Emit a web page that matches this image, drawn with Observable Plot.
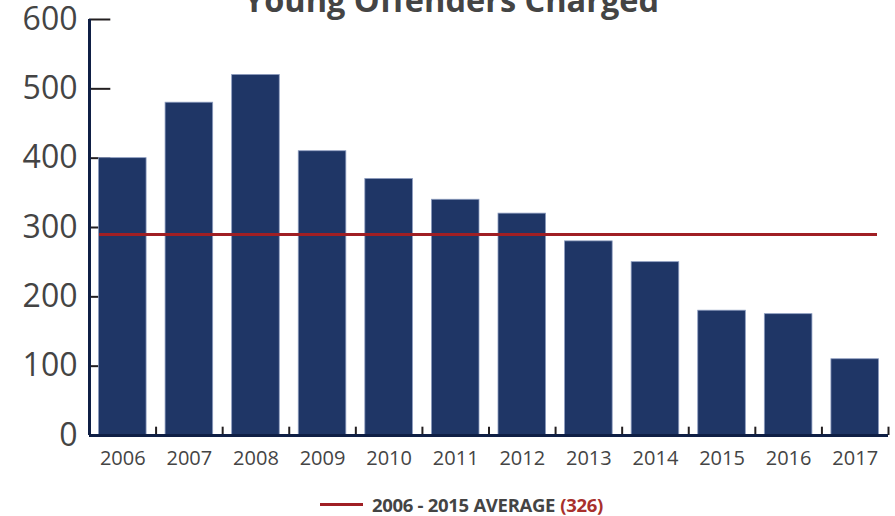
<!DOCTYPE html>
<html>
<head>
<meta charset="utf-8">
<script src="https://cdn.jsdelivr.net/npm/d3@7"></script>
<script src="https://cdn.jsdelivr.net/npm/@observablehq/plot@0.6"></script>
<style>
  body { margin: 0; background: #fff; font-family: "Open Sans", sans-serif; }
  #wrap { position: relative; width: 895px; height: 516px; overflow: hidden; }
  #title { position: absolute; left: 4px; width: 895px; top: -23px; text-align: center; font-weight: 700; font-size: 32.5px; color: #444; white-space: nowrap; }
  #legend { position: absolute; left: 320px; top: 492px; display: flex; align-items: center; font-size: 18.5px; font-weight: 700; color: #444; white-space: nowrap; letter-spacing: -0.3px; }
  #legend .sw { width: 43px; height: 3px; background: #a01f24; margin-right: 9px; }
  #legend .val { color: #a8302c; margin-left: 5px; }
  #chart { position: absolute; left: 0; top: 0; }
</style>
</head>
<body>
<div id="wrap">
  <div id="chart"></div>
  <div id="title">Young Offenders Charged</div>
  <div id="legend"><span class="sw"></span><span>2006 - 2015 AVERAGE</span><span class="val">(326)</span></div>
</div>
<script>
const years = [2006, 2007, 2008, 2009, 2010, 2011, 2012, 2013, 2014, 2015, 2016, 2017];
const charged = [400, 480, 520, 410, 370, 340, 320, 280, 250, 180, 175, 110];
const averageLine = 290;
const yTicks = [0, 100, 200, 300, 400, 500, 600];

const data = years.map((year, i) => ({year, value: charged[i]}));
const boundaries = years.map(y => y + 0.5);

const navy = "#0f1f45";
const chart = Plot.plot({
  width: 895,
  height: 480,
  marginLeft: 89,
  marginRight: 7,
  marginTop: 19,
  marginBottom: 45,
  style: {fontFamily: "'Open Sans', sans-serif", color: "#444", background: "transparent", overflow: "visible"},
  x: {domain: [2005.5, 2017.5], axis: null},
  y: {domain: [0, 600], axis: null},
  marks: [
    Plot.ruleY(yTicks.filter(d => d > 0), {y: d => d, x1: 2005.5, x2: 2005.82, stroke: "#231f20", strokeWidth: 2}),
    Plot.rectY(data, {x1: d => d.year - 0.5, x2: d => d.year + 0.5, y: "value", insetLeft: 9.5, insetRight: 9.5, fill: "#1f3666", stroke: "#8c9cbf", strokeWidth: 0.8}),
    Plot.ruleY([averageLine], {stroke: "#a01f24", strokeWidth: 3, insetLeft: 10, insetRight: 11}),
    Plot.ruleX(boundaries, {x: d => d, y1: 0, y2: 12, stroke: "#231f20", strokeWidth: 2}),
    Plot.ruleY([0], {stroke: navy, strokeWidth: 3}),
    Plot.ruleX([2005.5], {stroke: navy, strokeWidth: 3, y1: 0, y2: 600}),
    Plot.axisY(yTicks, {label: null, tickSize: 0, tickPadding: 12, fontSize: 32, fill: "#444", anchor: "left"}),
    Plot.axisX(years, {label: null, tickSize: 0, tickPadding: 15, fontSize: 20, fill: "#444", tickFormat: d => String(d), anchor: "bottom"})
  ]
});
document.getElementById("chart").appendChild(chart);
</script>
</body>
</html>
